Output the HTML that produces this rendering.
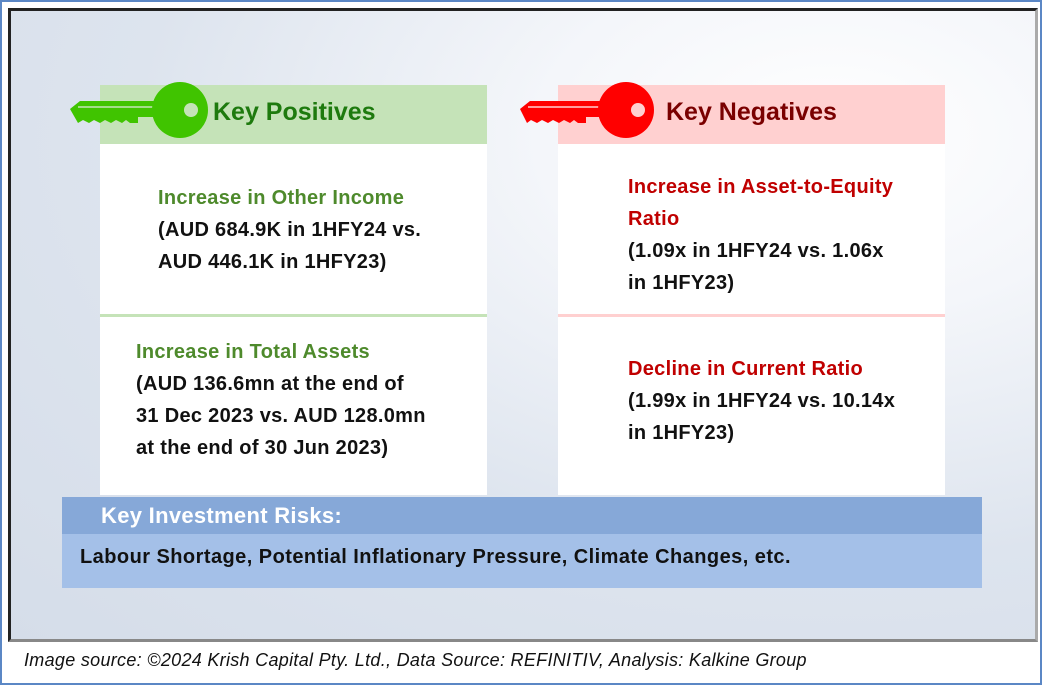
<!DOCTYPE html>
<html><head><meta charset="utf-8"><style>
body{margin:0;width:1042px;height:685px;overflow:hidden;background:#fff;font-family:"Liberation Sans",sans-serif;position:relative}
.abs{position:absolute}
.t{position:absolute;font-weight:bold;font-size:20px;line-height:32px;white-space:nowrap;letter-spacing:0.3px}
.g{color:#4e8a2c}.r{color:#c00000}.k{color:#111}
</style></head><body>
<div class="abs" style="left:0;top:0;width:1038px;height:681px;border:2px solid #5b87c5"></div>
<div class="abs" style="left:8px;top:8px;width:1024px;height:628px;border:3px solid #222;border-right-color:#aaa;border-bottom-color:#888;background:radial-gradient(ellipse at 80% 20%,#ffffff 0%,#f4f6fa 25%,#dde4ee 60%,#d5dde9 100%)"></div>

<div class="abs" style="left:100px;top:85px;width:387px;height:59px;background:#c5e3b8"></div>
<div class="abs" style="left:100px;top:144px;width:387px;height:351px;background:#fff"></div>
<div class="abs" style="left:100px;top:314px;width:387px;height:3px;background:#c5e3b8"></div>
<div class="abs" style="left:558px;top:85px;width:387px;height:59px;background:#ffd0d0"></div>
<div class="abs" style="left:558px;top:144px;width:387px;height:351px;background:#fff"></div>
<div class="abs" style="left:558px;top:314px;width:387px;height:3px;background:#ffd0d0"></div>

<svg class="abs" style="left:68px;top:80px" width="140" height="62" viewBox="0 0 140 62">
<path d="M2 29 L12 21 L95 21 L95 37 L70 37 L70 43 L62 43 L58 40 L54 43 L48 40 L43 43 L37 40 L32 43 L26 40 L21 43 L15 40 L10 43 Z" fill="#40c400"/>
<line x1="10" y1="27" x2="92" y2="27" stroke="#c5e3b8" stroke-width="1.5"/>
<circle cx="112" cy="30" r="28" fill="#40c400"/><circle cx="123" cy="30" r="7" fill="#c5e3b8"/></svg>
<div class="t" style="left:213px;top:96px;font-size:25px;color:#1e7a0e;letter-spacing:0px">Key Positives</div>

<svg class="abs" style="left:520px;top:82px" width="140" height="60" viewBox="0 0 140 60">
<path d="M0 27 L10 19 L90 19 L90 35 L66 35 L66 41 L58 41 L54 38 L50 41 L44 38 L39 41 L33 38 L28 41 L22 38 L17 41 L11 38 L7 41 Z" fill="#ff0000"/>
<line x1="8" y1="25" x2="88" y2="25" stroke="#ffd0d0" stroke-width="1.5"/>
<circle cx="106" cy="28" r="28" fill="#ff0000"/><circle cx="118" cy="28" r="7" fill="#ffd0d0"/></svg>
<div class="t" style="left:666px;top:96px;font-size:25px;color:#7a0000;letter-spacing:0px">Key Negatives</div>

<div class="t g" style="left:158px;top:182px">Increase in Other Income</div>
<div class="t k" style="left:158px;top:214px">(AUD 684.9K in 1HFY24 vs.<br>AUD 446.1K in 1HFY23)</div>
<div class="t g" style="left:136px;top:336px">Increase in Total Assets</div>
<div class="t k" style="left:136px;top:368px">(AUD 136.6mn at the end of<br>31 Dec 2023 vs. AUD 128.0mn<br>at the end of 30 Jun 2023)</div>

<div class="t r" style="left:628px;top:171px">Increase in Asset-to-Equity<br>Ratio</div>
<div class="t k" style="left:628px;top:235px">(1.09x in 1HFY24 vs. 1.06x<br>in 1HFY23)</div>
<div class="t r" style="left:628px;top:353px">Decline in Current Ratio</div>
<div class="t k" style="left:628px;top:385px">(1.99x in 1HFY24 vs. 10.14x<br>in 1HFY23)</div>

<div class="abs" style="left:62px;top:497px;width:920px;height:37px;background:#86a8d8"></div>
<div class="abs" style="left:62px;top:534px;width:920px;height:54px;background:#a4c0e8"></div>
<div class="t" style="left:101px;top:500px;font-size:22px;color:#fff">Key Investment Risks:</div>
<div class="t k" style="left:80px;top:541px;letter-spacing:0.45px">Labour Shortage, Potential Inflationary Pressure, Climate Changes, etc.</div>

<div class="t k" style="left:24px;top:644px;font-style:italic;font-weight:normal;font-size:18px;letter-spacing:0.3px;color:#111">Image source: ©2024 Krish Capital Pty. Ltd., Data Source: REFINITIV, Analysis: Kalkine Group</div>
</body></html>
